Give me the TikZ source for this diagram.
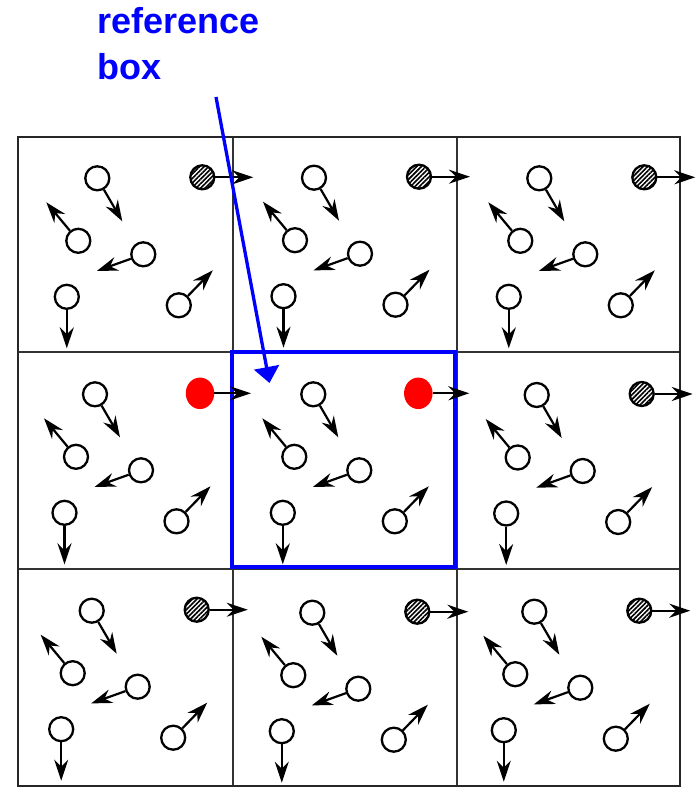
\documentclass[tikz,border=0pt]{standalone}
\usepackage{fontspec}
\setmainfont{Liberation Sans}
\usetikzlibrary{arrows.meta,shapes.geometric,patterns.meta}
\begin{document}
\begin{tikzpicture}[x=1pt,y=-1pt,
  ball/.style={circle,draw=black,line width=2.3pt,minimum size=24pt,inner sep=0pt},
  hball/.style={ball,pattern={Lines[angle=45,distance=3.2pt,line width=1.6pt]}},
  rball/.style={ellipse,fill=red,minimum width=28.5pt,minimum height=31.5pt,inner sep=0pt},
  vel/.style={line width=2.2pt,-{Stealth[length=21pt,width=14pt,inset=7pt]}},
  frame/.style={line width=2.6pt,black!85},
  cellline/.style={line width=2pt,black!80},
  refbox/.style={draw=blue,line width=4.6pt,minimum width=223pt,minimum height=215pt,inner sep=0pt},
  lead/.style={draw=blue,line width=3.3pt,-{Triangle[length=16pt,width=25pt]}},
  lab/.style={anchor=base west,inner sep=0pt,text=blue,font=\fontsize{36}{40}\selectfont\bfseries}
]
\useasboundingbox (0,0) rectangle (696,787);

% grid
\draw[cellline] (232.5,137) -- (232.5,786);
\draw[cellline] (456.5,137) -- (456.5,786);
\draw[cellline] (18,352) -- (680,352);
\draw[cellline] (18,568.5) -- (680,568.5);
\draw[frame] (18,137) rectangle (680,786);

% reference box
\node[refbox] (box) at (343.5,459.5) {};

% particles in each periodic cell
\foreach \c/\r/\x/\y/\kind in {0/0/97.3/178.3/hball, 1/0/314/177.7/hball, 2/0/539.3/178.3/hball,
                               0/1/95/394.3/rball, 1/1/313.3/394.3/rball, 2/1/536.7/395/hball,
                               0/2/91.7/610.7/hball, 1/2/312.3/612.7/hball, 2/2/534.3/611.7/hball}
{
  \begin{scope}[shift={(\x,\y)}]
    \node[ball] (a\c\r) at (0,0) {};
    \node[\kind] (h\c\r) at (105,-1) {};
    \node[ball] (b\c\r) at (-19,62.5) {};
    \node[ball] (k\c\r) at (46,76) {};
    \node[ball] (d\c\r) at (-30.5,118.5) {};
    \node[ball] (e\c\r) at (81.5,127) {};
    \coordinate (ta\c\r) at (25,43);
    \coordinate (th\c\r) at (156,-1);
    \coordinate (tb\c\r) at (-51,24);
    \coordinate (tk\c\r) at (-0.5,92.7);
    \coordinate (td\c\r) at (-30.5,170);
    \coordinate (te\c\r) at (115.5,92);
    \draw[vel] (a\c\r) -- (ta\c\r);
    \draw[vel] (h\c\r) -- (th\c\r);
    \draw[vel] (b\c\r) -- (tb\c\r);
    \draw[vel] (k\c\r) -- (tk\c\r);
    \draw[vel] (d\c\r) -- (td\c\r);
    \draw[vel] (e\c\r) -- (te\c\r);
  \end{scope}
}

% label and leader
\node[lab] (lab1) at (97,33.5) {reference};
\node[lab] (lab2) at (97,79) {box};
\coordinate (ls) at (216,97);
\coordinate (lt) at (269.5,383);
\draw[lead] (ls) -- (lt);
\end{tikzpicture}
\end{document}
